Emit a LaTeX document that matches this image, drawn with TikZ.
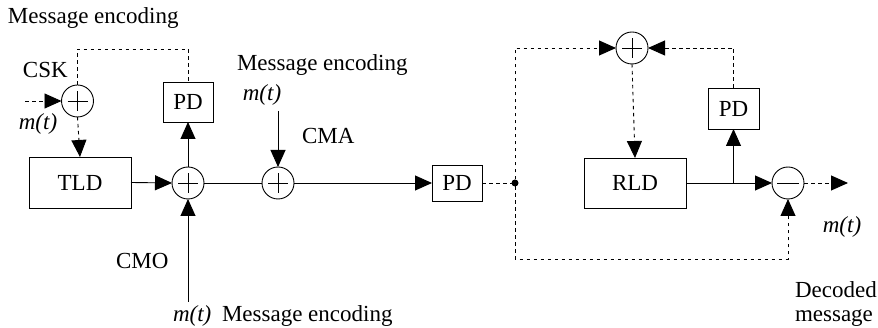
\documentclass[tikz,border=0pt]{standalone}
\usepackage{fontspec}
\setmainfont{Liberation Serif}
\usetikzlibrary{arrows.meta}
\tikzset{bigtri/.tip={Triangle[length=17pt,width=15pt]}}
\begin{document}
\begin{tikzpicture}[x=1pt,y=-1pt,
  every node/.style={font=\fontsize{23}{26}\selectfont, inner sep=0pt, outer sep=0pt},
  line/.style={line width=0.9pt},
  arr/.style={line width=0.9pt, -bigtri},
  dsh/.style={dash pattern=on 3.5pt off 3.5pt},
  blk/.style={draw, line width=0.9pt, minimum width=#1},
  sumc/.style={draw, circle, line width=0.9pt, minimum size=32pt,
    path picture={\draw[line width=0.9pt] ([xshift=-10pt]path picture bounding box.center) -- ([xshift=10pt]path picture bounding box.center);
                  \draw[line width=0.9pt] ([yshift=-10pt]path picture bounding box.center) -- ([yshift=10pt]path picture bounding box.center);}},
  difc/.style={draw, circle, line width=0.9pt, minimum size=32pt,
    path picture={\draw[line width=0.9pt] ([xshift=-11pt]path picture bounding box.center) -- ([xshift=11pt]path picture bounding box.center);}},
  dotn/.style={circle, fill, minimum size=7pt}
]
\useasboundingbox (0,0) rectangle (878,328);

% left part
\node[sumc] (csk) at (77.5,101) {};
\node[blk=50pt, minimum height=40pt] (pd1) at (188,102) {PD};
\node[blk=102pt, minimum height=51pt] (tld) at (80,182.5) {TLD};
\node[sumc] (s2) at (188,183) {};
\node[sumc] (s3) at (278,183) {};
\node[blk=50pt, minimum height=36pt] (pd2) at (457,183) {PD};
\node[dotn] (dot) at (515,183) {};

% right part
\node[sumc] (top) at (632,48) {};
\node[blk=102pt, minimum height=50pt] (rld) at (635,183) {RLD};
\node[blk=51pt, minimum height=41pt] (pd3) at (733.5,108.5) {PD};
\node[difc] (minus) at (788,183) {};

% free ends
\coordinate (cskin) at (25,101);
\coordinate (cmoin) at (188,302);
\coordinate (cmain) at (278,111);
\coordinate (branch) at (733.5,183);
\coordinate (out) at (848,183);
\coordinate (bl) at (515,259);

% texts
\node[anchor=base west] (enc1) at (8,24) {Message encoding};
\node[anchor=base west] (cskl) at (23,78) {CSK};
\node (m1) at (38,124) {\textit{m(t)}};
\node[anchor=base west] (enc2) at (237,71) {Message encoding};
\node (m2) at (262,95) {\textit{m(t)}};
\node[anchor=base west] (cma) at (302,144) {CMA};
\node[anchor=base west] (cmo) at (116,269) {CMO};
\node[anchor=base west] (m3) at (173,322) {\textit{m(t)}};
\node[anchor=base west] (enc3) at (222,322) {Message encoding};
\node (m4) at (842,227) {\textit{m(t)}};
\node[anchor=base west, align=left] (dec) at (795,322) {Decoded\\[-2pt]message};

% connectors
\draw[arr, dsh] (cskin) -- (csk.west);
\draw[line, dsh] (csk.north) |- (188,49) -- (pd1.north);
\draw[arr, dsh] (csk.south) -- (tld.north);
\draw[arr] (tld.east) -- (s2.west);
\draw[arr] (s2.north) -- (pd1.south);
\draw[arr] (cmoin) -- (s2.south);
\draw[line] (s2.east) -- (s3.west);
\draw[arr] (cmain) -- (s3.north);
\draw[arr] (s3.east) -- (pd2.west);
\draw[line, dsh] (pd2.east) -- (dot);
\draw[arr, dsh] (dot) |- (top.west);
\draw[arr, dsh] (dot) -- (bl) -| (minus.south);
\draw[arr, dsh] (top.south) -- (rld.north);
\draw[arr] (rld.east) -- (minus.west);
\draw[arr] (branch) -- (pd3.south);
\draw[arr, dsh] (pd3.north) |- (top.east);
\draw[arr, dsh] (minus.east) -- (out);
\end{tikzpicture}
\end{document}
